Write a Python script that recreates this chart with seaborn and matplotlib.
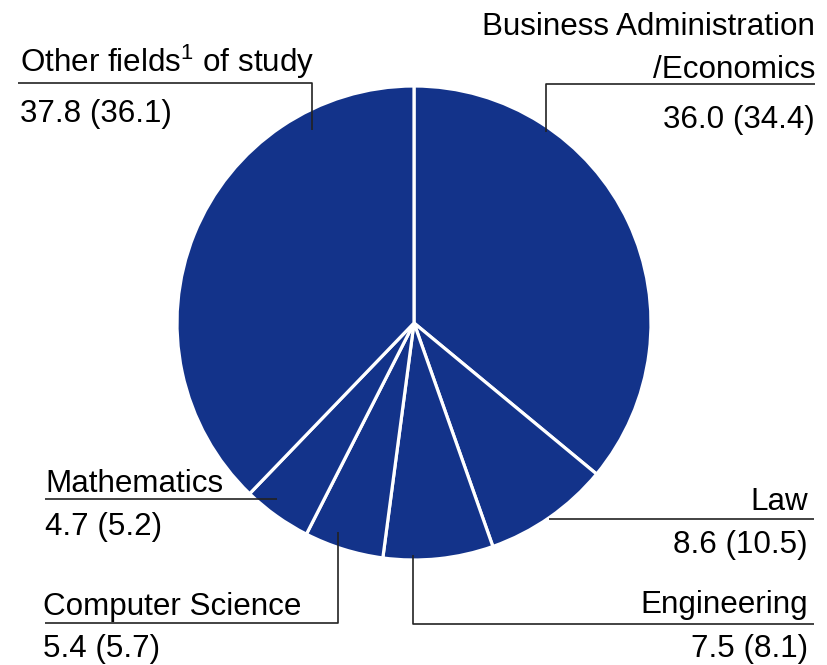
import matplotlib.pyplot as plt
import seaborn as sns

# shares in percent, previous year in brackets
fields = ["Business Administration\n/Economics", "Law", "Engineering",
          "Computer Science", "Mathematics", "Other fields$^{1}$ of study"]
shares = [36.0, 8.6, 7.5, 5.4, 4.7, 37.8]
shares_prev = [34.4, 10.5, 8.1, 5.7, 5.2, 36.1]

W, H = 827, 665

sns.set_theme(style="white")
plt.rcParams['font.family'] = ['Liberation Sans', 'DejaVu Sans']
plt.rcParams['mathtext.fontset'] = 'custom'
plt.rcParams['mathtext.rm'] = 'Liberation Sans'
plt.rcParams['mathtext.it'] = 'Liberation Sans'
plt.rcParams['mathtext.default'] = 'regular'

fig = plt.figure(figsize=(W / 100, H / 100), dpi=100)
ax = fig.add_axes([0, 0, 1, 1])

ax.pie(shares, startangle=90, counterclock=False, colors=["#13338a"],
       center=(414, H - 323), radius=237,
       wedgeprops=dict(edgecolor="white", linewidth=2.3))
ax.set_xlim(0, W)
ax.set_ylim(0, H)
ax.set_aspect("auto")
ax.axis("off")

def py(y):
    # pixel row -> data y
    return H - y

# label layout: (name x, last name baseline, value baseline, align, leader line pts)
layout = [
    (815, 78, 128, "right", [(546, 132), (546, 84), (815, 84)]),
    (808, 510, 553, "right", [(549, 519), (814, 519)]),
    (808, 613, 657, "right", [(413, 555), (413, 624), (814, 624)]),
    (43, 615, 657, "left", [(338, 532), (338, 623), (45, 623)]),
    (45, 492, 535, "left", [(277, 499), (45, 499)]),
    (20, 72, 122, "left", [(312, 130), (312, 83), (18, 83)]),
]

fs = 22.6
for name, val, prev, (x, yb, yv, ha, pts) in zip(fields, shares, shares_prev, layout):
    ax.text(x, py(yb), name, ha=ha, va="baseline", fontsize=fs,
            color="black", linespacing=1.55)
    ax.text(x, py(yv), f"{val:.1f} ({prev:.1f})", ha=ha, va="baseline",
            fontsize=fs, color="black")
    xs = [p[0] for p in pts]
    ys = [py(p[1]) for p in pts]
    ax.plot(xs, ys, color="#222222", lw=1.2, solid_capstyle="butt")

fig.savefig("out.png", dpi=100)
